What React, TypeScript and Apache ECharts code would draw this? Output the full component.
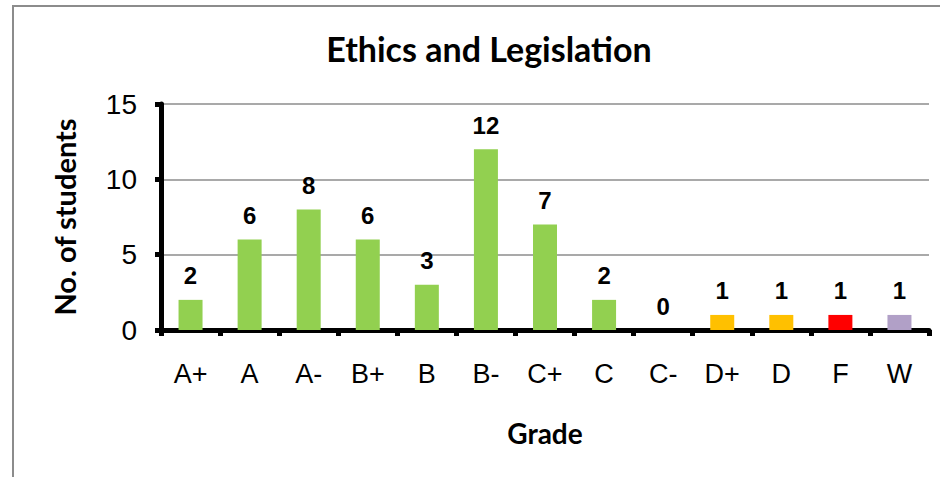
import React, { useEffect, useRef } from "react";
import * as echarts from "echarts";

const categories = ["A+", "A", "A-", "B+", "B", "B-", "C+", "C", "C-", "D+", "D", "F", "W"];
const students = [2, 6, 8, 6, 3, 12, 7, 2, 0, 1, 1, 1, 1];
const yTicks = { min: 0, max: 15, interval: 5 };

const GREEN = "#92D050";
const ORANGE = "#FFC000";
const RED = "#FF0000";
const PURPLE = "#B1A0C7";

function colorFor(grade: string): string {
  if (grade === "D+" || grade === "D") return ORANGE;
  if (grade === "F") return RED;
  if (grade === "W") return PURPLE;
  return GREEN;
}

export default function App() {
  const ref = useRef<HTMLDivElement>(null);
  useEffect(() => {
    if (!ref.current) return;
    const chart = echarts.init(ref.current, undefined, { renderer: "svg" });
    chart.setOption({
      animation: false,
      backgroundColor: "#ffffff",
      graphic: [
        {
          type: "rect",
          shape: { x: 13, y: 6, width: 1000, height: 600 },
          style: { fill: "none", stroke: "#8C8C8C", lineWidth: 2 },
          silent: true,
        },
      ],
      title: {
        text: "Ethics and Legislation",
        left: 484,
        top: 26,
        textAlign: "center",
        textStyle: { fontFamily: "Lato", fontWeight: "bold", fontSize: 34, color: "#000" },
      },
      grid: { left: 161, right: 11, top: 104, bottom: 147, containLabel: false },
      xAxis: {
        type: "category",
        data: categories,
        name: "Grade",
        nameLocation: "middle",
        nameGap: 89,
        nameTextStyle: { fontFamily: "Lato", fontWeight: "bold", fontSize: 28, color: "#000" },
        axisLine: { show: true, lineStyle: { color: "#000", width: 5 } },
        axisTick: { show: true, length: 6, lineStyle: { color: "#000", width: 5 } },
        axisLabel: { margin: 30, fontFamily: "Liberation Sans", fontSize: 27, color: "#000" },
      },
      yAxis: {
        type: "value",
        min: yTicks.min,
        max: yTicks.max,
        interval: yTicks.interval,
        name: "No. of students",
        nameLocation: "middle",
        nameGap: 82,
        nameTextStyle: { fontFamily: "Lato", fontWeight: "bold", fontSize: 29, color: "#000" },
        axisLine: { show: true, lineStyle: { color: "#000", width: 5 } },
        axisTick: { show: true, length: 6, lineStyle: { color: "#000", width: 5 } },
        axisLabel: { margin: 24, fontFamily: "Liberation Sans", fontSize: 28, color: "#000" },
        splitLine: { show: true, lineStyle: { color: "#8C8C8C", width: 1.5 } },
      },
      series: [
        {
          type: "bar",
          barWidth: 24,
          data: students.map((v, i) => ({ value: v, itemStyle: { color: colorFor(categories[i]) } })),
          label: {
            show: true,
            position: "top",
            distance: 12,
            fontFamily: "Liberation Sans",
            fontWeight: "bold",
            fontSize: 24,
            color: "#000",
          },
        },
      ],
    });
    return () => chart.dispose();
  }, []);
  return (
    <div
      ref={ref}
      style={{ position: "fixed", left: 0, top: 0, width: 940, height: 477 }}
    />
  );
}
